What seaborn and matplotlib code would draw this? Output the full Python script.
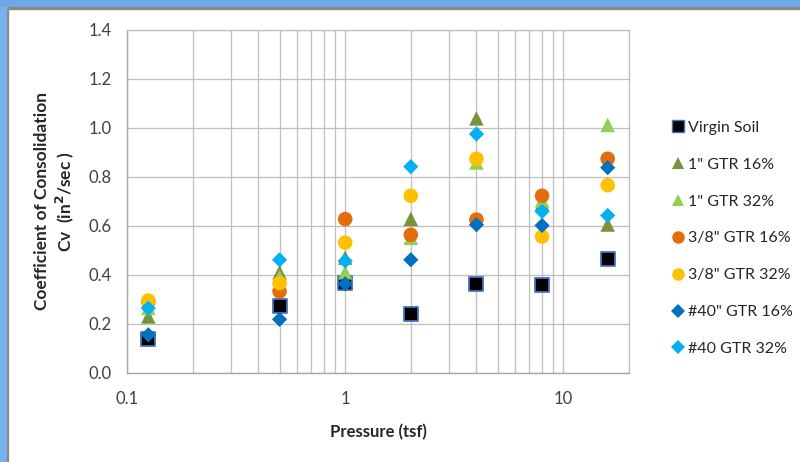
import numpy as np
import pandas as pd
import seaborn as sns
import matplotlib.pyplot as plt
import matplotlib.ticker as mticker
from matplotlib.patches import Rectangle
from matplotlib.lines import Line2D

# -------------------------
# Data
# -------------------------
pressure = [0.125, 0.5, 1, 2, 4, 8, 16]

virgin_soil = [0.139, 0.271, 0.367, 0.241, 0.363, 0.359, 0.463]
gtr1_16 = [0.230, 0.410, 0.470, 0.628, 1.038, 0.690, 0.605]
gtr1_32 = [0.265, 0.390, 0.410, 0.551, 0.858, 0.703, 1.011]
gtr38_16 = [0.290, 0.332, 0.627, 0.563, 0.625, 0.722, 0.873]
gtr38_32 = [0.295, 0.366, 0.531, 0.722, 0.873, 0.556, 0.765]
gtr40_16 = [0.155, 0.218, 0.363, 0.461, 0.604, 0.601, 0.837]
gtr40_32 = [0.264, 0.461, 0.456, 0.841, 0.974, 0.658, 0.642]

labels = ["Virgin Soil", '1" GTR 16%', '1" GTR 32%', '3/8" GTR 16%',
          '3/8" GTR 32%', '#40" GTR 16%', "#40 GTR 32%"]
colors = ["#000000", "#77933C", "#92D050", "#E46C0A", "#FFC000", "#0070C0", "#00B0F0"]
markers = ["s", "^", "^", "o", "o", "D", "D"]
sizes = [110, 110, 110, 110, 110, 60, 60]
edges = ["#4472C4", "none", "none", "none", "none", "none", "none"]

series = [virgin_soil, gtr1_16, gtr1_32, gtr38_16, gtr38_32, gtr40_16, gtr40_32]
df = pd.DataFrame({
    "pressure": pressure * len(series),
    "cv": sum(series, []),
    "group": np.repeat(labels, len(pressure)),
})

# -------------------------
# Plot
# -------------------------
sns.set_style("white")
plt.rcParams["font.family"] = ["Lato", "DejaVu Sans"]

fig = plt.figure(figsize=(8, 4.62), dpi=100)
ax = fig.add_axes([0.159, 0.193, 0.627, 0.743])

# window border of the screenshot
fig.patches.append(Rectangle((0, 0.984), 1, 0.016, transform=fig.transFigure,
                             color="#6FA8E6", zorder=0))
fig.patches.append(Rectangle((0, 0.980), 1, 0.005, transform=fig.transFigure,
                             color="#8A8A8A", zorder=0))
fig.patches.append(Rectangle((0, 0), 0.009, 0.984, transform=fig.transFigure,
                             color="#78B2EE", zorder=0))
fig.patches.append(Rectangle((0.009, 0), 0.0015, 0.981, transform=fig.transFigure,
                             color="#8A8A8A", zorder=0))

for lab, col, mk, sz, ec in zip(labels, colors, markers, sizes, edges):
    sns.scatterplot(data=df[df["group"] == lab], x="pressure", y="cv", ax=ax,
                    color=col, marker=mk, s=sz, edgecolor=ec,
                    linewidth=1.3 if ec != "none" else 0, zorder=3, legend=False)

ax.set_xscale("log")
ax.set_xlim(0.1, 20)
ax.set_ylim(0, 1.4)
ax.set_yticks(np.arange(0, 1.41, 0.2))
ax.yaxis.set_major_formatter(mticker.FormatStrFormatter("%.1f"))
ax.set_xticks([0.1, 1, 10])
ax.xaxis.set_major_formatter(mticker.FuncFormatter(lambda v, p: f"{v:g}"))
ax.xaxis.set_minor_locator(mticker.LogLocator(base=10, subs=np.arange(2, 10)))
ax.xaxis.set_minor_formatter(mticker.NullFormatter())

ax.grid(True, which="major", axis="both", color="#BFBFBF", linewidth=0.9)
ax.grid(True, which="minor", axis="x", color="#BFBFBF", linewidth=0.9)
ax.set_axisbelow(True)

for side in ["top", "right"]:
    ax.spines[side].set_color("#BFBFBF")
    ax.spines[side].set_linewidth(0.9)
for side in ["left", "bottom"]:
    ax.spines[side].set_color("#A6A6A6")
    ax.spines[side].set_linewidth(1.0)

ax.tick_params(axis="both", which="major", direction="out", length=5,
               color="#A6A6A6", labelsize=12, labelcolor="#404040", pad=8)
ax.tick_params(axis="x", which="minor", length=0)
ax.tick_params(axis="y", pad=6)

ax.set_xlabel("Pressure (tsf)", fontsize=12, fontweight="bold", labelpad=12)
ax.set_ylabel("Coefficient of Consolidation\nCv  (in$\\mathbf{^2}$/sec )",
              fontsize=12.5, fontweight="bold", labelpad=9)

handles = [Line2D([], [], linestyle="none", marker=mk, color=col,
                  markeredgecolor=(ec if ec != "none" else col),
                  markeredgewidth=1.0 if ec != "none" else 0,
                  markersize=9 if mk != "D" else 7)
           for col, mk, ec in zip(colors, markers, edges)]
fig.legend(handles, labels, loc="upper left", bbox_to_anchor=(0.823, 0.77),
           frameon=False, fontsize=11.5, labelspacing=1.42, handlelength=0.6,
           handletextpad=0.35, labelcolor="#262626")

fig.savefig("out.png", dpi=100)
